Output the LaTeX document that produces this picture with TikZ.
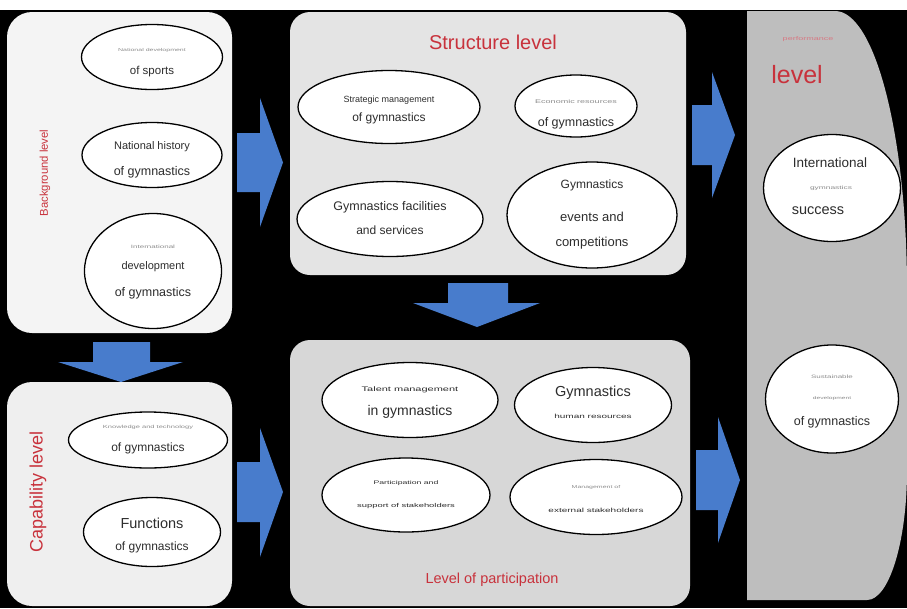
\documentclass[tikz,border=0pt]{standalone}
\usepackage{fontspec}
\usepackage{graphicx}
\setmainfont{Liberation Sans}
\usetikzlibrary{shapes.geometric}
\definecolor{arrowblue}{RGB}{72,124,204}
\definecolor{lvlred}{RGB}{200,50,60}
\definecolor{lvlpink}{RGB}{215,120,130}
\definecolor{faint}{RGB}{140,140,140}
\definecolor{maintxt}{RGB}{45,45,45}
\definecolor{pbg}{RGB}{244,244,244}
\definecolor{pcap}{RGB}{239,239,239}
\definecolor{pstr}{RGB}{228,228,228}
\definecolor{ppar}{RGB}{215,215,215}
\definecolor{pperf}{RGB}{190,190,190}
\newcommand{\fsz}[1]{\fontsize{#1}{#1}\selectfont}
\newcommand{\sqz}[1]{\scalebox{1}[0.6]{#1}}
\begin{document}
\begin{tikzpicture}[x=1pt,y=-1pt,
  panelbox/.style={draw=none, rectangle, inner sep=0pt},
  oval/.style={draw=black, line width=1.3pt, fill=white, ellipse, inner sep=0pt},
  txt/.style={inner sep=0pt, text=maintxt},
  faintxt/.style={inner sep=0pt, text=faint},
  lvl/.style={inner sep=0pt, text=lvlred},
  blockarrow/.style={fill=arrowblue, draw=none}]
\useasboundingbox (0,0) rectangle (907,608);
\fill[white] (0,0) rectangle (907,608);
\fill[black] (0,10) rectangle (907,608);

% panels
\node[panelbox, fill=pbg, rounded corners=25pt, minimum width=225pt, minimum height=321pt] (bg) at (119.5,172.5) {};
\node[panelbox, fill=pcap, rounded corners=25pt, minimum width=225pt, minimum height=224pt] (cap) at (119.5,494) {};
\node[panelbox, fill=pstr, rounded corners=20pt, minimum width=396pt, minimum height=263pt] (str) at (488,143.5) {};
\node[panelbox, fill=ppar, rounded corners=20pt, minimum width=400pt, minimum height=266pt] (par) at (490,473) {};
\fill[pperf] (747,11) -- (835,11) .. controls (875,11) and (907,136) .. (907,290)
  -- (907,470) .. controls (907,542) and (889,600) .. (867,600) -- (747,600) -- cycle;

% block arrows
\fill[blockarrow] (237,133) -- (260,133) -- (260,98) -- (283,162.5) -- (260,227) -- (260,192) -- (237,192) -- cycle;
\fill[blockarrow] (692,105) -- (712,105) -- (712,72) -- (735,135) -- (712,198) -- (712,165) -- (692,165) -- cycle;
\fill[blockarrow] (448,283) -- (508,283) -- (508,303) -- (540,303) -- (477,327) -- (413,303) -- (448,303) -- cycle;
\fill[blockarrow] (93,342) -- (150,342) -- (150,362) -- (183,362) -- (121,382) -- (58,362) -- (93,362) -- cycle;
\fill[blockarrow] (237,462) -- (260,462) -- (260,428) -- (283,492) -- (260,557) -- (260,522) -- (237,522) -- cycle;
\fill[blockarrow] (696,450) -- (718,450) -- (718,417) -- (740,480) -- (718,543) -- (718,510) -- (696,510) -- cycle;

% level labels
\node[lvl, rotate=90, font=\fsz{11.3}] (bglbl) at (45,173) {Background level};
\node[lvl, rotate=90, font=\fsz{18}] (caplbl) at (38,492) {Capability level};
\node[lvl, font=\fsz{20}] (strlbl) at (493,42) {Structure level};
\node[lvl, font=\fsz{14.5}] (parlbl) at (492,580) {Level of participation};
\node[inner sep=0pt, text=lvlpink, font=\fsz{9}] (perflbl) at (808,39) {\sqz{performance}};
\node[lvl, font=\fsz{25}] (perflvl) at (797,75) {level};

% background ellipses
\node[oval, minimum width=141pt, minimum height=65pt] (e1) at (152,57) {};
\node[faintxt, font=\fsz{7}] (e1a) at (152,50) {\sqz{National development}};
\node[txt, font=\fsz{11.5}] (e1b) at (152,72) {of sports};
\node[oval, minimum width=140pt, minimum height=65pt] (e2) at (152,155) {};
\node[txt, font=\fsz{11}] (e2a) at (152,147) {National history};
\node[txt, font=\fsz{12.5}] (e2b) at (152,172) {of gymnastics};
\node[oval, minimum width=137pt, minimum height=115pt] (e3) at (153,271) {};
\node[faintxt, font=\fsz{8}] (e3a) at (153,247) {\sqz{International}};
\node[txt, font=\fsz{11}] (e3b) at (153,267) {development};
\node[txt, font=\fsz{12.5}] (e3c) at (153,293) {of gymnastics};

% capability ellipses
\node[oval, minimum width=159pt, minimum height=56pt] (e4) at (148,440) {};
\node[faintxt, font=\fsz{7.5}] (e4a) at (148,427) {\sqz{Knowledge and technology}};
\node[txt, font=\fsz{12}] (e4b) at (148,448) {of gymnastics};
\node[oval, minimum width=137pt, minimum height=69pt] (e5) at (152,532) {};
\node[txt, font=\fsz{14.5}] (e5a) at (152,523) {Functions};
\node[txt, font=\fsz{12}] (e5b) at (152,547) {of gymnastics};

% structure ellipses
\node[oval, minimum width=182pt, minimum height=73pt] (e6) at (389,107) {};
\node[txt, font=\fsz{9}] (e6a) at (389,100) {Strategic management};
\node[txt, font=\fsz{12}] (e6b) at (389,118) {of gymnastics};
\node[oval, minimum width=122pt, minimum height=62pt] (e7) at (576,106) {};
\node[faintxt, font=\fsz{9}] (e7a) at (576,102) {\sqz{Economic resources}};
\node[txt, font=\fsz{12.5}] (e7b) at (576,123) {of gymnastics};
\node[oval, minimum width=186pt, minimum height=75pt] (e8) at (390,219) {};
\node[txt, font=\fsz{12.5}] (e8a) at (390,207) {Gymnastics facilities};
\node[txt, font=\fsz{12}] (e8b) at (390,230) {and services};
\node[oval, minimum width=170pt, minimum height=106pt] (e9) at (592,215) {};
\node[txt, font=\fsz{12}] (e9a) at (592,185) {Gymnastics};
\node[txt, font=\fsz{13}] (e9b) at (592,217) {events and};
\node[txt, font=\fsz{13}] (e9c) at (592,243) {competitions};

% participation ellipses
\node[oval, minimum width=176pt, minimum height=75pt] (e10) at (410,400) {};
\node[txt, font=\fsz{11}] (e10a) at (410,390) {\sqz{Talent management}};
\node[txt, font=\fsz{14}] (e10b) at (410,412) {in gymnastics};
\node[oval, minimum width=157pt, minimum height=75pt] (e11) at (593,405) {};
\node[txt, font=\fsz{14.5}] (e11a) at (593,393) {Gymnastics};
\node[txt, font=\fsz{10}] (e11b) at (593,416) {\sqz{human resources}};
\node[oval, minimum width=168pt, minimum height=74pt] (e12) at (406,495) {};
\node[txt, font=\fsz{8.7}] (e12a) at (406,483) {\sqz{Participation and}};
\node[txt, font=\fsz{9.4}] (e12b) at (406,506) {\sqz{support of stakeholders}};
\node[oval, minimum width=172pt, minimum height=75pt] (e13) at (596,497) {};
\node[faintxt, font=\fsz{7}] (e13a) at (596,487) {\sqz{Management of}};
\node[txt, font=\fsz{10}] (e13b) at (596,510) {\sqz{external stakeholders}};

% performance ellipses
\node[oval, minimum width=137pt, minimum height=107pt] (e14) at (832,188) {};
\node[txt, font=\fsz{13.5}] (e14a) at (830,163) {International};
\node[faintxt, font=\fsz{8.4}] (e14b) at (831,188) {\sqz{gymnastics}};
\node[txt, font=\fsz{14.5}] (e14c) at (818,211) {success};
\node[oval, minimum width=133pt, minimum height=108pt] (e15) at (832,399) {};
\node[faintxt, font=\fsz{8}] (e15a) at (832,377) {\sqz{Sustainable}};
\node[faintxt, font=\fsz{6.7}] (e15b) at (832,398) {\sqz{development}};
\node[txt, font=\fsz{12.5}] (e15c) at (832,422) {of gymnastics};
\end{tikzpicture}
\end{document}
